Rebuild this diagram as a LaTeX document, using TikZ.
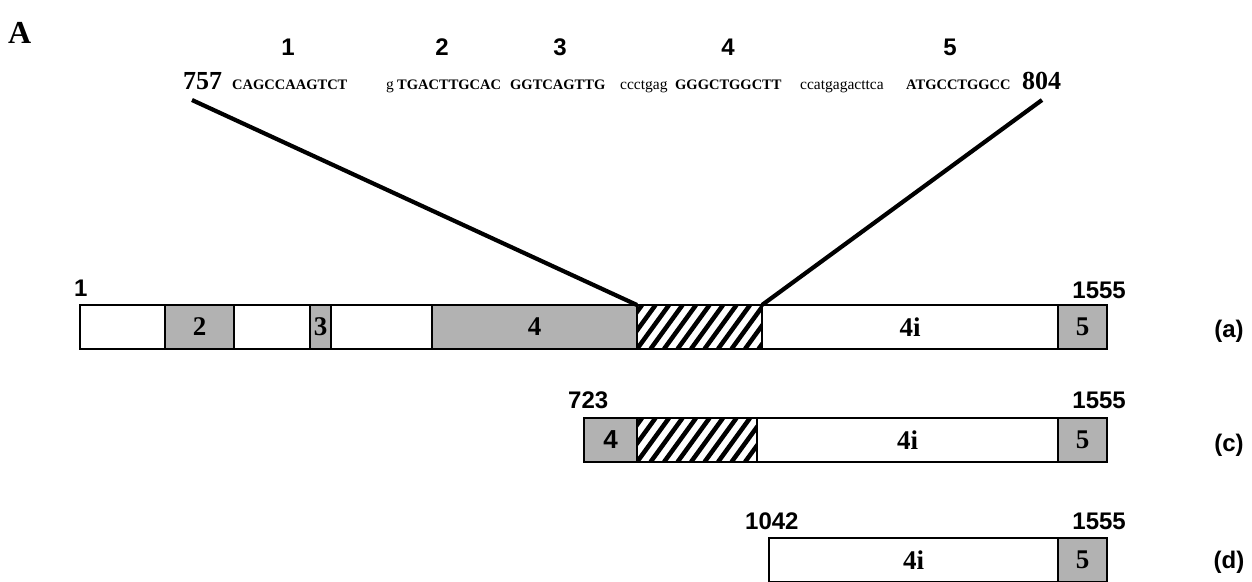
\documentclass[tikz,border=0pt]{standalone}
\usepackage{fontspec}
\setmainfont{Liberation Serif}
\newfontfamily\arialfont{Liberation Sans}
\usetikzlibrary{positioning}

\newcommand\seqcap{\fontsize{14.5}{15}\selectfont\bfseries}
\newcommand\seqlow{\fontsize{15.5}{16}\selectfont}
\newcommand\posfont{\fontsize{26}{26}\selectfont\bfseries}
\newcommand\numfont{\arialfont\fontsize{24}{24}\selectfont\bfseries}
\newcommand\boxfont{\fontsize{27}{27}\selectfont\bfseries}

\tikzset{
  seg/.style={draw, line width=1.7pt, minimum width=#1, minimum height=44pt,
    inner sep=0pt, outer sep=0pt, font=\boxfont},
  exon/.style={seg=#1, fill=black!30},
  intron/.style={seg=#1, fill=white},
  hatched/.style={seg=#1, fill=white, path picture={
    \foreach \k in {-3,...,10}
      \draw[line width=4.5pt] ([xshift=\k*13.5pt]path picture bounding box.south west) -- ++(32pt,44pt);
  }},
  txt/.style={inner sep=0pt, anchor=base west},
  zoomline/.style={line width=4.2pt},
}

\begin{document}
\begin{tikzpicture}[x=1pt, y=-1pt]
\useasboundingbox (0,0) rectangle (1252,581);

% Panel letter
\node[txt, font=\fontsize{32}{32}\selectfont\bfseries] (panel) at (8,43) {A};

% Motif numbers
\foreach \nm/\nx in {1/288, 2/442, 3/560, 4/728, 5/950}
  \node[inner sep=0pt, anchor=base, font=\numfont] (m\nm) at (\nx,55) {\nm};

% Sequence 757--804
\node[txt, font=\posfont] (s757) at (183,89) {757};
\node[txt, font=\seqcap] (q1) at (232,89) {CAGCCAAGTCT};
\node[txt, font=\seqlow] (g1) at (386,89) {g};
\node[txt, font=\seqcap] (q2) at (397,89) {TGACTTGCAC};
\node[txt, font=\seqcap] (q3) at (510,89) {GGTCAGTTG};
\node[txt, font=\seqlow] (g2) at (620,89) {ccctgag};
\node[txt, font=\seqcap] (q4) at (675,89) {GGGCTGGCTT};
\node[txt, font=\seqlow] (g3) at (800,89) {ccatgagacttca};
\node[txt, font=\seqcap] (q5) at (906,89) {ATGCCTGGCC};
\node[txt, font=\posfont] (s804) at (1022,89) {804};

% Row (a)
\node[intron=85pt, anchor=north west] (a1) at (80,305) {};
\node[exon=69pt, right=0pt of a1] (a2) {2};
\node[intron=76pt, right=0pt of a2] (a3) {};
\node[exon=21pt, right=0pt of a3] (a4) {3};
\node[intron=101pt, right=0pt of a4] (a5) {};
\node[exon=205pt, right=0pt of a5] (a6) {4};
\node[hatched=125pt, right=0pt of a6] (a7) {};
\node[intron=296pt, right=0pt of a7] (a8) {4i};
\node[exon=49pt, right=0pt of a8] (a9) {5};
\node[txt, font=\numfont] (pa1) at (74,296) {1};
\node[txt, anchor=base east, font=\numfont] (pa2) at (1126,298) {1555};
\node[font=\numfont] (taga) at (1229,331) {(a)};

% Zoom lines
\coordinate (zl) at (192,100);
\coordinate (zr) at (1042,100);
\draw[zoomline] (zl) -- (a7.north west);
\draw[zoomline] (zr) -- (a7.north east);

% Row (c)
\node[exon=53pt, anchor=north west, font=\arialfont\fontsize{26}{26}\selectfont\bfseries] (c1) at (584,418) {4};
\node[hatched=120pt, right=0pt of c1] (c2) {};
\node[intron=301pt, right=0pt of c2] (c3) {4i};
\node[exon=49pt, right=0pt of c3] (c4) {5};
\node[txt, font=\numfont] (pc1) at (568,408) {723};
\node[txt, anchor=base east, font=\numfont] (pc2) at (1126,408) {1555};
\node[font=\numfont] (tagc) at (1229,445) {(c)};

% Row (d)
\node[intron=289pt, anchor=north west] (d1) at (769,538) {4i};
\node[exon=49pt, right=0pt of d1] (d2) {5};
\node[txt, font=\numfont] (pd1) at (745,529) {1042};
\node[txt, anchor=base east, font=\numfont] (pd2) at (1126,529) {1555};
\node[font=\numfont] (tagd) at (1229,562) {(d)};
\end{tikzpicture}
\end{document}
